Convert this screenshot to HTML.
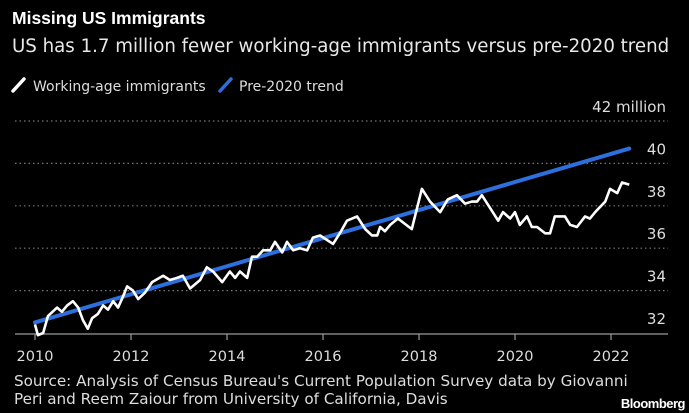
<!DOCTYPE html>
<html><head><meta charset="utf-8"><style>
body{margin:0;background:#000;width:689px;height:413px;overflow:hidden;font-family:"DejaVu Sans",sans-serif;color:#fff}
#title{position:absolute;left:12px;top:8px;font-size:17.5px;font-weight:bold;font-family:"Liberation Sans",sans-serif;}
#sub{position:absolute;left:12px;top:36px;font-size:18.2px;color:#e8e8e8;white-space:nowrap}
#src{position:absolute;left:14px;top:372px;font-size:15.2px;color:#ddd;line-height:18px;white-space:nowrap}
#logo{position:absolute;right:4px;top:396px;font-size:13px;font-weight:bold;letter-spacing:-0.5px;font-family:"Liberation Sans",sans-serif}
svg{position:absolute;left:0;top:0;font-family:"DejaVu Sans",sans-serif}
</style></head><body>
<div id="title">Missing US Immigrants</div>
<div id="sub">US has 1.7 million fewer working-age immigrants versus pre-2020 trend</div>
<div id="src">Source: Analysis of Census Bureau's Current Population Survey data by Giovanni<br>Peri and Reem Zaiour from University of California, Davis</div>
<div id="logo">Bloomberg</div>
<svg id="chart" width="689" height="413"></svg>
<script>
const yTicks=[32,34,36,38,40,42];
const yTickLabels=["32","34","36","38","40","42 million"];
const xTicks=[2010,2012,2014,2016,2018,2020,2022];
const xTickLabels=["2010","2012","2014","2016","2018","2020","2022"];
const actualYears=[2010.0,2010.06,2010.17,2010.27,2010.46,2010.56,2010.67,2010.79,2010.9,2011.0,2011.1,2011.19,2011.31,2011.42,2011.52,2011.63,2011.73,2011.81,2011.92,2012.04,2012.15,2012.29,2012.44,2012.67,2012.81,2012.96,2013.08,2013.23,2013.44,2013.58,2013.71,2013.9,2014.06,2014.17,2014.27,2014.42,2014.52,2014.63,2014.75,2014.9,2015.0,2015.15,2015.25,2015.38,2015.52,2015.67,2015.79,2015.94,2016.21,2016.35,2016.5,2016.71,2016.88,2017.02,2017.13,2017.19,2017.29,2017.4,2017.56,2017.85,2018.06,2018.23,2018.44,2018.6,2018.79,2018.96,2019.1,2019.21,2019.31,2019.48,2019.65,2019.75,2019.9,2020.0,2020.1,2020.25,2020.35,2020.46,2020.63,2020.73,2020.83,2020.98,2021.04,2021.15,2021.29,2021.46,2021.56,2021.67,2021.88,2021.98,2022.13,2022.23,2022.38];
const actualValues=[32.4,31.9,32.0,32.8,33.2,33.0,33.3,33.5,33.2,32.6,32.2,32.7,32.9,33.3,33.1,33.5,33.2,33.6,34.2,34.0,33.6,33.9,34.4,34.7,34.5,34.6,34.7,34.1,34.5,35.1,34.9,34.4,34.9,34.6,34.9,34.6,35.6,35.6,35.9,35.9,36.3,35.8,36.3,35.9,36.0,35.9,36.5,36.6,36.2,36.7,37.3,37.5,36.9,36.6,36.6,37.0,36.8,37.1,37.4,36.9,38.8,38.2,37.7,38.3,38.5,38.1,38.2,38.2,38.5,37.9,37.3,37.7,37.4,37.7,37.1,37.5,37.0,37.0,36.7,36.7,37.5,37.5,37.5,37.1,37.0,37.5,37.4,37.7,38.2,38.8,38.6,39.1,39.0];
const trendYears=[2010.0,2022.38];
const trendValues=[32.5,40.7];
const NS="http://www.w3.org/2000/svg";
const svg=document.getElementById('chart');
const X=y=>35+(y-2010)*48;
const Y=v=>333-(v-32)*21.2;
function mk(t,a){const e=document.createElementNS(NS,t);for(const k in a)e.setAttribute(k,a[k]);svg.appendChild(e);return e;}
yTicks.forEach((v,i)=>{
 if(i>0){const g=mk('line',{x1:15,x2:668,y1:Y(v),y2:Y(v),stroke:'#777','stroke-width':1.2,'stroke-dasharray':'1.5,3'});
 
 }
 const t=mk('text',{x:666,y:Y(v)-9,'text-anchor':'end',fill:'#ddd','font-size':15});
 t.textContent=yTickLabels[i];
 
 
});
const ax=mk('line',{x1:15,x2:668,y1:334,y2:334,stroke:'#999','stroke-width':1.2});


xTicks.forEach((yr,i)=>{
 const tk=mk('line',{x1:X(yr),x2:X(yr),y1:334,y2:340,stroke:'#999','stroke-width':1.2});
 
 
 const t=mk('text',{x:X(yr),y:361,'text-anchor':'middle',fill:'#ddd','font-size':14.5});
 t.textContent=xTickLabels[i];
 
 
});
const tl=mk('path',{d:trendYears.map((y,i)=>(i?'L':'M')+X(y)+','+Y(trendValues[i])).join(''),stroke:'#2d6fdc','stroke-width':4,fill:'none','stroke-linecap':'round'});


const al=mk('path',{d:actualYears.map((y,i)=>(i?'L':'M')+X(y)+','+Y(actualValues[i])).join(''),stroke:'#fff','stroke-width':2.6,fill:'none','stroke-linejoin':'round'});


const l1=mk('line',{x1:13,y1:91,x2:24,y2:79,stroke:'#fff','stroke-width':3.5,'stroke-linecap':'round'});


const t1=mk('text',{x:33,y:91,fill:'#ddd','font-size':14});t1.textContent='Working-age immigrants';


const l2=mk('line',{x1:220,y1:91,x2:231,y2:79,stroke:'#2d6fdc','stroke-width':3.5,'stroke-linecap':'round'});


const t2=mk('text',{x:239,y:91,fill:'#ddd','font-size':14});t2.textContent='Pre-2020 trend';


</script>
</body></html>
